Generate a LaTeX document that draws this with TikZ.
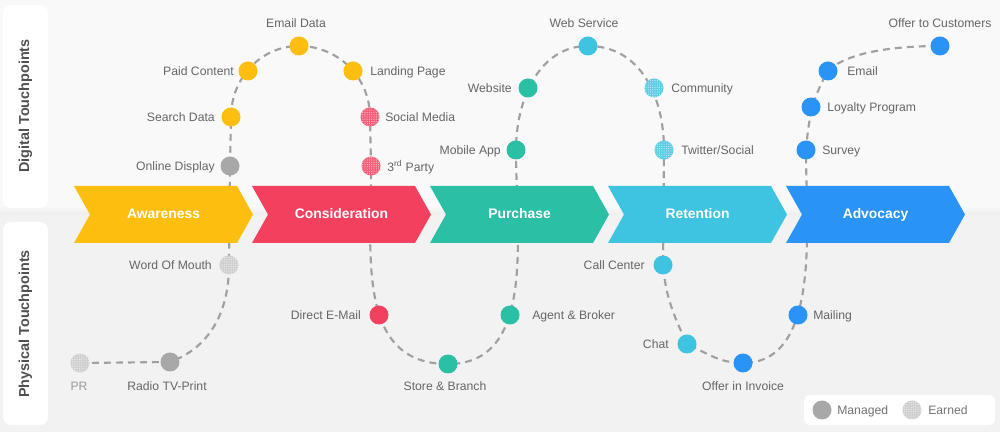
\documentclass[tikz,border=0pt]{standalone}
\usepackage{fontspec}
\setmainfont{Liberation Sans}
\usetikzlibrary{patterns.meta}
\definecolor{cYellow}{HTML}{FDBE10}
\definecolor{cRed}{HTML}{F2405E}
\definecolor{cTeal}{HTML}{2BBFA6}
\definecolor{cCyan}{HTML}{3EC4E0}
\definecolor{cBlue}{HTML}{2A94F6}
\definecolor{cGray}{HTML}{A8A8A8}
\definecolor{cEarnGray}{HTML}{C6C6C6}
\definecolor{cText}{HTML}{666666}
\definecolor{cLight}{HTML}{9A9A9A}
\definecolor{cSide}{HTML}{505050}
\definecolor{cLine}{HTML}{A0A0A0}
\definecolor{cTop}{HTML}{F9F9F9}
\definecolor{cBot}{HTML}{F2F2F2}
\pgfdeclarelayer{back}
\pgfdeclarelayer{mid}
\pgfsetlayers{back,mid,main}
\begin{document}
\begin{tikzpicture}[x=0.75pt,y=0.75pt,
  dot/.style={circle, minimum size=14.25pt, inner sep=0pt, draw=none},
  managed/.style={dot, fill=#1},
  earned/.style={dot, fill=#1!85!white, postaction={pattern={Dots[distance=1.7pt,radius=0.45pt]}, pattern color=#1!30!white}},
  lbl/.style={font=\fontsize{9.15}{11}\selectfont, text=cText, inner sep=0pt, text height=6.56pt, text depth=0pt},
  stagelbl/.style={font=\bfseries\fontsize{10.4}{12}\selectfont, text=white, inner sep=0pt, text height=7.45pt, text depth=0pt},
  sidelbl/.style={font=\bfseries\fontsize{10.8}{13}\selectfont, text=cSide, inner sep=0pt, rotate=90},
  conn/.style={draw=cLine, line width=1.6pt, dash pattern=on 5.2pt off 3.8pt},
  panel/.style={fill=white, rounded corners=6pt}
]
\useasboundingbox (0,0) rectangle (1000,432);

% ---------- dots ----------
\node[earned=cEarnGray] (pr) at (80,69) {};
\node[managed=cGray] (radio) at (170,70) {};
\node[earned=cEarnGray] (wom) at (229,167) {};
\node[managed=cGray] (online) at (230,266) {};
\node[managed=cYellow] (search) at (231,315) {};
\node[managed=cYellow] (paid) at (248,361) {};
\node[managed=cYellow] (emaildata) at (299,386) {};
\node[managed=cYellow] (landing) at (353,361) {};
\node[earned=cRed] (social) at (370,315) {};
\node[earned=cRed] (third) at (371,266) {};
\node[managed=cRed] (direct) at (379,117) {};
\node[managed=cTeal] (store) at (448,68) {};
\node[managed=cTeal] (agent) at (510,117) {};
\node[managed=cTeal] (mobile) at (516,282) {};
\node[managed=cTeal] (website) at (528,344) {};
\node[managed=cCyan] (webservice) at (588,386) {};
\node[earned=cCyan] (community) at (654,344) {};
\node[earned=cCyan] (twitter) at (664,282) {};
\node[managed=cCyan] (callcenter) at (663,167) {};
\node[managed=cCyan] (chat) at (687,88) {};
\node[managed=cBlue] (invoice) at (743,69) {};
\node[managed=cBlue] (mailing) at (798,117) {};
\node[managed=cBlue] (survey) at (806,282) {};
\node[managed=cBlue] (loyalty) at (811,325) {};
\node[managed=cBlue] (emailb) at (828,361) {};
\node[managed=cBlue] (offer) at (940,386) {};

% ---------- labels ----------
\node[lbl, text=cLight] (tPR) at (79,46) {PR};
\node[lbl] (tRadio) at (167,46) {Radio TV-Print};
\node[lbl, anchor=east] (tWom) at (212,167) {Word Of Mouth};
\node[lbl, anchor=east] (tOnline) at (215,266) {Online Display};
\node[lbl, anchor=east] (tSearch) at (215,315) {Search Data};
\node[lbl, anchor=east] (tPaid) at (234,361) {Paid Content};
\node[lbl] (tEmailData) at (296,409) {Email Data};
\node[lbl, anchor=west] (tLanding) at (370,361) {Landing Page};
\node[lbl, anchor=west] (tSocial) at (385,315) {Social Media};
\node[lbl, anchor=west] (tThird) at (387,265) {3\textsuperscript{rd} Party};
\node[lbl, anchor=east] (tDirect) at (361,117) {Direct E-Mail};
\node[lbl] (tStore) at (445,46) {Store \& Branch};
\node[lbl, anchor=west] (tAgent) at (532,117) {Agent \& Broker};
\node[lbl, anchor=east] (tMobile) at (501,282) {Mobile App};
\node[lbl, anchor=east] (tWebsite) at (512,344) {Website};
\node[lbl] (tWebService) at (584,409) {Web Service};
\node[lbl, anchor=west] (tCommunity) at (671,344) {Community};
\node[lbl, anchor=west] (tTwitter) at (681,282) {Twitter/Social};
\node[lbl, anchor=east] (tCall) at (645,167) {Call Center};
\node[lbl, anchor=east] (tChat) at (669,88) {Chat};
\node[lbl] (tInvoice) at (743,46) {Offer in Invoice};
\node[lbl, anchor=west] (tMailing) at (813,117) {Mailing};
\node[lbl, anchor=west] (tSurvey) at (822,282) {Survey};
\node[lbl, anchor=west] (tLoyalty) at (827,325) {Loyalty Program};
\node[lbl, anchor=west] (tEmail) at (847,361) {Email};
\node[lbl] (tOffer) at (940,409) {Offer to Customers};

% ---------- side labels ----------
\begin{pgfonlayer}{mid}
\fill[panel] (3,224) rectangle (48,427);
\fill[panel] (3,7) rectangle (48,210);
\end{pgfonlayer}
\node[sidelbl] (digital) at (25.5,326) {Digital Touchpoints};
\node[sidelbl] (physical) at (25.5,108) {Physical Touchpoints};

% ---------- legend ----------
\begin{pgfonlayer}{mid}
\fill[white, rounded corners=4pt] (804,7) rectangle (995,37);
\end{pgfonlayer}
\node[managed=cGray] (legManaged) at (822,22) {};
\node[lbl, anchor=west, text=cSide!80!white] (tManaged) at (837,22) {Managed};
\node[earned=cEarnGray] (legEarned) at (912,22) {};
\node[lbl, anchor=west, text=cSide!80!white] (tEarned) at (928,22) {Earned};

% ---------- stages ----------
\begin{pgfonlayer}{mid}
\foreach \L/\c in {74/cYellow,252/cRed,430/cTeal,608/cCyan,786/cBlue}{
  \fill[\c] (\L,246) -- ({\L+163},246) -- ({\L+179},217.5) -- ({\L+163},189) -- (\L,189) -- ({\L+16},217.5) -- cycle;
}
\end{pgfonlayer}
\node[stagelbl] (sAware) at (163.5,218) {Awareness};
\node[stagelbl] (sConsid) at (341.5,218) {Consideration};
\node[stagelbl] (sPurch) at (519.5,218) {Purchase};
\node[stagelbl] (sRet) at (697.5,218) {Retention};
\node[stagelbl] (sAdv) at (875.5,218) {Advocacy};

% ---------- background and journey line ----------
\begin{pgfonlayer}{back}
\fill[cTop] (0,217) rectangle (1000,432);
\fill[cBot] (0,0) rectangle (1000,217);
\shade[top color=cTop, bottom color=cBot!98!black] (0,217) rectangle (1000,226);
\draw[conn] (pr.center) -- (radio.center)
  to[out=20,in=-90] (wom.center) -- (online.center) -- (search.center)
  to[out=90,in=180] (emaildata.center)
  to[out=0,in=90] (social.center) -- (third.center)
  to[out=-90,in=180,looseness=1.1] (store.center)
  to[out=0,in=-90] (mobile.center)
  to[out=90,in=180] (webservice.center)
  to[out=0,in=90,looseness=1.05] (twitter.center) -- (callcenter.center)
  to[out=-85,in=115] (chat.center)
  to[out=-25,in=180] (invoice.center)
  to[out=0,in=-90,looseness=0.9] (survey.center)
  to[out=85,in=-120] (emailb.center)
  to[out=45,in=180,out looseness=0.6] (offer.center);
\end{pgfonlayer}
\end{tikzpicture}
\end{document}
